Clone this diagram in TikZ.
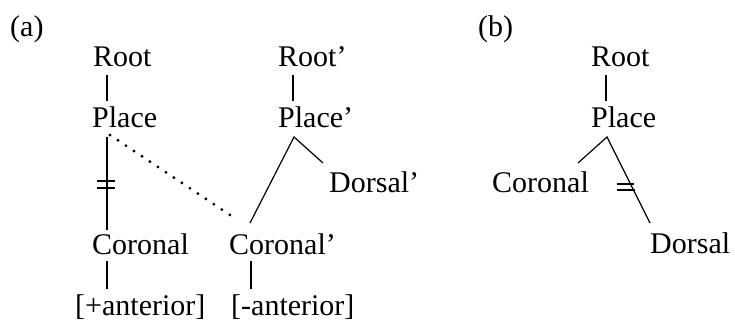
\documentclass[tikz,border=0pt]{standalone}
\usepackage{fontspec}
\setmainfont{Liberation Serif}
\begin{document}
\begin{tikzpicture}[x=1pt,y=-1pt,
  lbl/.style={inner sep=0pt,anchor=base west,font=\fontsize{30}{36}\selectfont},
  vline/.style={line width=1.8pt},
  dline/.style={line width=1.2pt},
  bar/.style={line width=1.3pt},
  dotline/.style={line width=3.2pt,line cap=round,dash pattern=on 0pt off 9.6pt}]
\useasboundingbox (0,0) rectangle (735,323);
% (a)
\node[lbl] (la) at (10,37) {(a)};
\node[lbl] (RootA) at (93,67) {Root};
\node[lbl] (PlaceA) at (92,128) {Place};
\node[lbl] (RootAp) at (278,67) {Root’};
\node[lbl] (PlaceAp) at (278,128) {Place’};
\node[lbl] (DorsalAp) at (329,192) {Dorsal’};
\node[lbl] (CoronalA) at (92,254) {Coronal};
\node[lbl] (CoronalAp) at (229,254) {Coronal’};
\node[lbl] (AntP) at (75,315) {[+anterior]};
\node[lbl] (AntM) at (231,315) {[-anterior]};
\draw[vline] ([shift={(14,8)}]RootA.base west) -- ([shift={(15,-27)}]PlaceA.base west);
\draw[vline] ([shift={(15,9)}]PlaceA.base west) -- ([shift={(15,-24)}]CoronalA.base west);
\draw[bar] ([shift={(5,53)}]PlaceA.base west) -- ([shift={(23,53)}]PlaceA.base west);
\draw[bar] ([shift={(5,60)}]PlaceA.base west) -- ([shift={(23,60)}]PlaceA.base west);
\draw[dotline] ([shift={(18,7)}]PlaceA.base west) -- ([shift={(4,-37)}]CoronalAp.base west);
\draw[vline] ([shift={(15,8)}]RootAp.base west) -- ([shift={(15,-27)}]PlaceAp.base west);
\draw[dline] ([shift={(-6,-29)}]DorsalAp.base west) -- ([shift={(16,9)}]PlaceAp.base west) -- ([shift={(21,-31)}]CoronalAp.base west);
\draw[vline] ([shift={(15,7)}]CoronalA.base west) -- ([shift={(32,-26)}]AntP.base west);
\draw[vline] ([shift={(22,7)}]CoronalAp.base west) -- ([shift={(20,-26)}]AntM.base west);
% (b)
\node[lbl] (lb) at (478,37) {(b)};
\node[lbl] (RootB) at (591,67) {Root};
\node[lbl] (PlaceB) at (591,128) {Place};
\node[lbl] (CoronalB) at (492,192) {Coronal};
\node[lbl] (DorsalB) at (650,253) {Dorsal};
\draw[vline] ([shift={(15,8)}]RootB.base west) -- ([shift={(15,-27)}]PlaceB.base west);
\draw[dline] ([shift={(86,-29)}]CoronalB.base west) -- ([shift={(16,9)}]PlaceB.base west) -- ([shift={(0,-30)}]DorsalB.base west);
\draw[bar] ([shift={(26,56)}]PlaceB.base west) -- ([shift={(43,56)}]PlaceB.base west);
\draw[bar] ([shift={(26,62)}]PlaceB.base west) -- ([shift={(44,62)}]PlaceB.base west);
\end{tikzpicture}
\end{document}
